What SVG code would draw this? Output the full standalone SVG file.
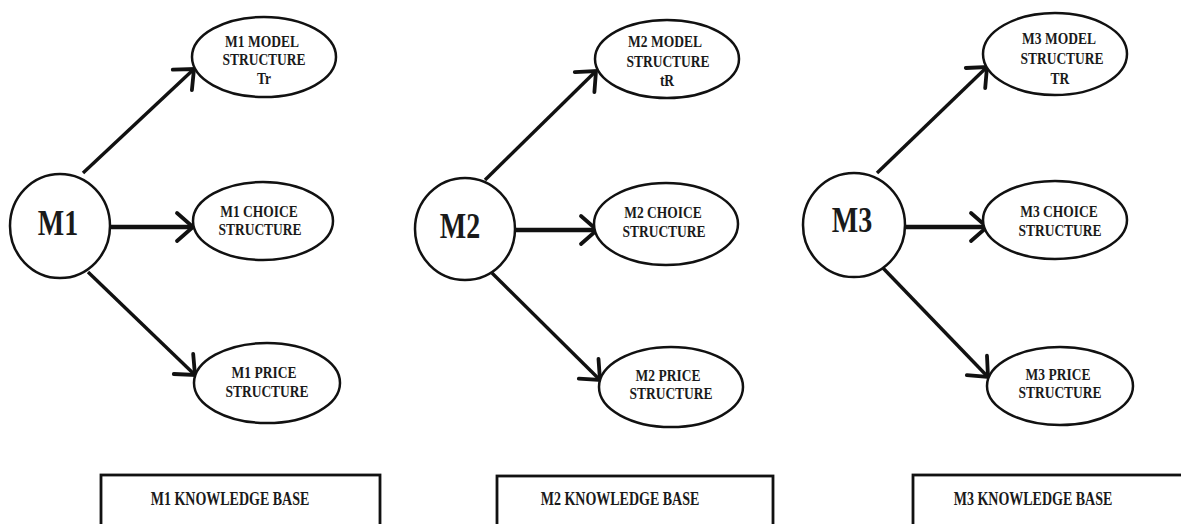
<svg xmlns="http://www.w3.org/2000/svg" width="1181" height="524" viewBox="0 0 1181 524">
  <style>
    .shape { fill: #fff; stroke: #111; stroke-width: 2.5; }
    .box { fill: #fff; stroke: #111; stroke-width: 2.8; }
    .t { font-family: "Liberation Serif", "Times New Roman", serif; font-weight: bold; fill: #1a1a1a; text-anchor: middle; }
    .small { font-size: 13.5px; }
    .kb { font-size: 14px; }
    .big { font-size: 28px; }
    .link { stroke: #111; stroke-width: 3.4; fill: none; marker-end: url(#arrow); }
    .link.h { stroke-width: 4.4; }
  </style>
  <defs>
    <!-- open chevron arrowhead -->
    <marker id="arrow" viewBox="-22 -18 26 36" refX="0" refY="0" markerWidth="26" markerHeight="36" markerUnits="userSpaceOnUse" orient="auto">
      <path d="M-16,-14 L0,0 L-16,14" fill="none" stroke="#111" stroke-width="3.8" stroke-linecap="round" stroke-linejoin="miter"/>
    </marker>
  </defs>
  <rect width="1181" height="524" fill="#fff"/>

  <!-- connectors -->
  <g id="connectors">
    <line class="link" x1="83" y1="173" x2="194" y2="69"/>
    <line class="link h" x1="110" y1="227" x2="193" y2="227"/>
    <line class="link" x1="88" y1="272" x2="195" y2="375"/>

    <line class="link" x1="485" y1="180" x2="596" y2="71"/>
    <line class="link h" x1="515" y1="230" x2="597" y2="230"/>
    <line class="link" x1="492" y1="273" x2="600" y2="380"/>

    <line class="link" x1="877" y1="173" x2="987" y2="67"/>
    <line class="link h" x1="905" y1="227" x2="987" y2="227"/>
    <line class="link" x1="882" y1="267" x2="988" y2="377"/>
  </g>

  <!-- panel 1 -->
  <g id="m1">
    <ellipse class="shape" cx="60" cy="226" rx="50" ry="52"/>
    <text class="t big" transform="translate(58,235) scale(1,1.27)">M1</text>
  </g>
  <g id="m1-model">
    <ellipse class="shape" cx="264" cy="57" rx="72" ry="40"/>
    <text class="t small" transform="translate(262,47) scale(1,1.27)">M1 MODEL</text>
    <text class="t small" transform="translate(264,65) scale(1,1.27)">STRUCTURE</text>
    <text class="t small" transform="translate(264,84) scale(1,1.27)">Tr</text>
  </g>
  <g id="m1-choice">
    <ellipse class="shape" cx="263" cy="221" rx="70" ry="39"/>
    <text class="t small" transform="translate(259,217) scale(1,1.27)">M1 CHOICE</text>
    <text class="t small" transform="translate(260,235) scale(1,1.27)">STRUCTURE</text>
  </g>
  <g id="m1-price">
    <ellipse class="shape" cx="267" cy="383" rx="73" ry="40"/>
    <text class="t small" transform="translate(264,378) scale(1,1.27)">M1 PRICE</text>
    <text class="t small" transform="translate(267,397) scale(1,1.27)">STRUCTURE</text>
  </g>
  <g id="m1-kb">
    <rect class="box" x="101" y="475" width="279" height="70"/>
    <text class="t kb" transform="translate(230,505) scale(1,1.27)">M1 KNOWLEDGE BASE</text>
  </g>

  <!-- panel 2 -->
  <g id="m2">
    <ellipse class="shape" cx="465" cy="229" rx="50" ry="51"/>
    <text class="t big" transform="translate(460,238) scale(1,1.27)">M2</text>
  </g>
  <g id="m2-model">
    <ellipse class="shape" cx="667" cy="59" rx="72" ry="39"/>
    <text class="t small" transform="translate(665,47) scale(1,1.27)">M2 MODEL</text>
    <text class="t small" transform="translate(668,67) scale(1,1.27)">STRUCTURE</text>
    <text class="t small" transform="translate(667,86) scale(1,1.27)">tR</text>
  </g>
  <g id="m2-choice">
    <ellipse class="shape" cx="666" cy="224" rx="72" ry="41"/>
    <text class="t small" transform="translate(663,218) scale(1,1.27)">M2 CHOICE</text>
    <text class="t small" transform="translate(664,237) scale(1,1.27)">STRUCTURE</text>
  </g>
  <g id="m2-price">
    <ellipse class="shape" cx="671" cy="387" rx="72" ry="40"/>
    <text class="t small" transform="translate(668,381) scale(1,1.27)">M2 PRICE</text>
    <text class="t small" transform="translate(671,399) scale(1,1.27)">STRUCTURE</text>
  </g>
  <g id="m2-kb">
    <rect class="box" x="497" y="476" width="276" height="70"/>
    <text class="t kb" transform="translate(620,505) scale(1,1.27)">M2 KNOWLEDGE BASE</text>
  </g>

  <!-- panel 3 -->
  <g id="m3">
    <ellipse class="shape" cx="854" cy="225" rx="51" ry="52"/>
    <text class="t big" transform="translate(852,232) scale(1,1.27)">M3</text>
  </g>
  <g id="m3-model">
    <ellipse class="shape" cx="1055" cy="54" rx="72" ry="41"/>
    <text class="t small" transform="translate(1059,44) scale(1,1.27)">M3 MODEL</text>
    <text class="t small" transform="translate(1062,64) scale(1,1.27)">STRUCTURE</text>
    <text class="t small" transform="translate(1060,84) scale(1,1.27)">TR</text>
  </g>
  <g id="m3-choice">
    <ellipse class="shape" cx="1055" cy="220" rx="72" ry="39"/>
    <text class="t small" transform="translate(1059,217) scale(1,1.27)">M3 CHOICE</text>
    <text class="t small" transform="translate(1060,236) scale(1,1.27)">STRUCTURE</text>
  </g>
  <g id="m3-price">
    <ellipse class="shape" cx="1060" cy="386" rx="73" ry="39"/>
    <text class="t small" transform="translate(1058,380) scale(1,1.27)">M3 PRICE</text>
    <text class="t small" transform="translate(1060,398) scale(1,1.27)">STRUCTURE</text>
  </g>
  <g id="m3-kb">
    <rect class="box" x="913" y="475" width="272" height="70"/>
    <text class="t kb" transform="translate(1033,505) scale(1,1.27)">M3 KNOWLEDGE BASE</text>
  </g>
</svg>
